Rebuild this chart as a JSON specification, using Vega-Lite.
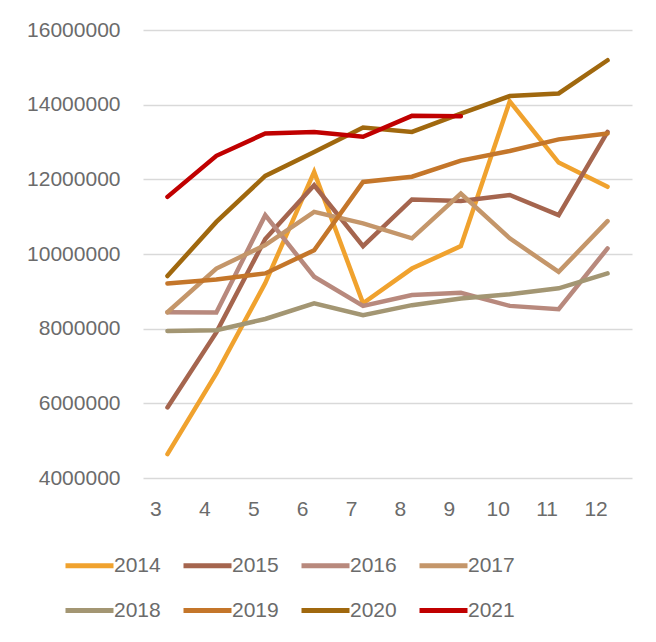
{
  "$schema": "https://vega.github.io/schema/vega-lite/v6.json",
  "width": 489,
  "height": 448,
  "autosize": {"type": "none"},
  "padding": {"left": 143, "top": 30, "right": 24, "bottom": 164},
  "background": "white",
  "config": {
    "view": {"stroke": null},
    "font": "Liberation Sans"
  },
  "data": {
    "values": [
      {"month": 3, "year": "2014", "value": 4640000},
      {"month": 4, "year": "2014", "value": 6800000},
      {"month": 5, "year": "2014", "value": 9220000},
      {"month": 6, "year": "2014", "value": 12200000},
      {"month": 7, "year": "2014", "value": 8680000},
      {"month": 8, "year": "2014", "value": 9610000},
      {"month": 9, "year": "2014", "value": 10210000},
      {"month": 10, "year": "2014", "value": 14090000},
      {"month": 11, "year": "2014", "value": 12450000},
      {"month": 12, "year": "2014", "value": 11800000},

      {"month": 3, "year": "2015", "value": 5890000},
      {"month": 4, "year": "2015", "value": 7900000},
      {"month": 5, "year": "2015", "value": 10400000},
      {"month": 6, "year": "2015", "value": 11840000},
      {"month": 7, "year": "2015", "value": 10210000},
      {"month": 8, "year": "2015", "value": 11460000},
      {"month": 9, "year": "2015", "value": 11420000},
      {"month": 10, "year": "2015", "value": 11580000},
      {"month": 11, "year": "2015", "value": 11040000},
      {"month": 12, "year": "2015", "value": 13270000},

      {"month": 3, "year": "2016", "value": 8440000},
      {"month": 4, "year": "2016", "value": 8430000},
      {"month": 5, "year": "2016", "value": 11040000},
      {"month": 6, "year": "2016", "value": 9390000},
      {"month": 7, "year": "2016", "value": 8610000},
      {"month": 8, "year": "2016", "value": 8900000},
      {"month": 9, "year": "2016", "value": 8960000},
      {"month": 10, "year": "2016", "value": 8610000},
      {"month": 11, "year": "2016", "value": 8520000},
      {"month": 12, "year": "2016", "value": 10150000},

      {"month": 3, "year": "2017", "value": 8440000},
      {"month": 4, "year": "2017", "value": 9610000},
      {"month": 5, "year": "2017", "value": 10240000},
      {"month": 6, "year": "2017", "value": 11130000},
      {"month": 7, "year": "2017", "value": 10820000},
      {"month": 8, "year": "2017", "value": 10420000},
      {"month": 9, "year": "2017", "value": 11620000},
      {"month": 10, "year": "2017", "value": 10420000},
      {"month": 11, "year": "2017", "value": 9520000},
      {"month": 12, "year": "2017", "value": 10880000},

      {"month": 3, "year": "2018", "value": 7940000},
      {"month": 4, "year": "2018", "value": 7960000},
      {"month": 5, "year": "2018", "value": 8260000},
      {"month": 6, "year": "2018", "value": 8680000},
      {"month": 7, "year": "2018", "value": 8360000},
      {"month": 8, "year": "2018", "value": 8630000},
      {"month": 9, "year": "2018", "value": 8810000},
      {"month": 10, "year": "2018", "value": 8920000},
      {"month": 11, "year": "2018", "value": 9080000},
      {"month": 12, "year": "2018", "value": 9480000},

      {"month": 3, "year": "2019", "value": 9210000},
      {"month": 4, "year": "2019", "value": 9320000},
      {"month": 5, "year": "2019", "value": 9480000},
      {"month": 6, "year": "2019", "value": 10100000},
      {"month": 7, "year": "2019", "value": 11930000},
      {"month": 8, "year": "2019", "value": 12070000},
      {"month": 9, "year": "2019", "value": 12500000},
      {"month": 10, "year": "2019", "value": 12760000},
      {"month": 11, "year": "2019", "value": 13070000},
      {"month": 12, "year": "2019", "value": 13230000},

      {"month": 3, "year": "2020", "value": 9410000},
      {"month": 4, "year": "2020", "value": 10860000},
      {"month": 5, "year": "2020", "value": 12090000},
      {"month": 6, "year": "2020", "value": 12730000},
      {"month": 7, "year": "2020", "value": 13390000},
      {"month": 8, "year": "2020", "value": 13270000},
      {"month": 9, "year": "2020", "value": 13760000},
      {"month": 10, "year": "2020", "value": 14230000},
      {"month": 11, "year": "2020", "value": 14300000},
      {"month": 12, "year": "2020", "value": 15190000},

      {"month": 3, "year": "2021", "value": 11530000},
      {"month": 4, "year": "2021", "value": 12630000},
      {"month": 5, "year": "2021", "value": 13230000},
      {"month": 6, "year": "2021", "value": 13270000},
      {"month": 7, "year": "2021", "value": 13140000},
      {"month": 8, "year": "2021", "value": 13700000},
      {"month": 9, "year": "2021", "value": 13690000}
    ]
  },
  "mark": {"type": "line", "strokeWidth": 4.5, "strokeCap": "round", "strokeJoin": "miter"},
  "encoding": {
    "x": {
      "field": "month",
      "type": "quantitative",
      "scale": {"domain": [2.5, 12.5], "nice": false, "zero": false},
      "axis": {
        "title": null,
        "values": [3, 4, 5, 6, 7, 8, 9, 10, 11, 12],
        "grid": false,
        "domain": false,
        "ticks": false,
        "labelFontSize": 21,
        "labelColor": "#6b6b6b",
        "labelPadding": 20,
        "labelOffset": -12,
        "labelFlush": false
      }
    },
    "y": {
      "field": "value",
      "type": "quantitative",
      "scale": {"domain": [4000000, 16000000], "nice": false, "zero": false},
      "axis": {
        "title": null,
        "values": [4000000, 6000000, 8000000, 10000000, 12000000, 14000000, 16000000],
        "format": "d",
        "domain": false,
        "ticks": false,
        "grid": true,
        "gridColor": "#d9d9d9",
        "gridWidth": 1.3,
        "labelFontSize": 21,
        "labelColor": "#6b6b6b",
        "labelPadding": 23
      }
    },
    "color": {
      "field": "year",
      "type": "nominal",
      "scale": {
        "domain": ["2014", "2015", "2016", "2017", "2018", "2019", "2020", "2021"],
        "range": ["#F0A22E", "#A5654E", "#B8897D", "#C4966A", "#A39673", "#C4762A", "#A0680E", "#C00000"]
      },
      "legend": {
        "title": null,
        "orient": "none",
        "legendX": -80,
        "legendY": 509,
        "direction": "horizontal",
        "columns": 4,
        "symbolType": "stroke",
        "symbolSize": 2304,
        "symbolStrokeWidth": 5,
        "symbolOffset": 0,
        "labelOffset": -2,
        "labelFontSize": 21,
        "labelColor": "#6b6b6b",
        "columnPadding": 12,
        "rowPadding": 8
      }
    }
  }
}
